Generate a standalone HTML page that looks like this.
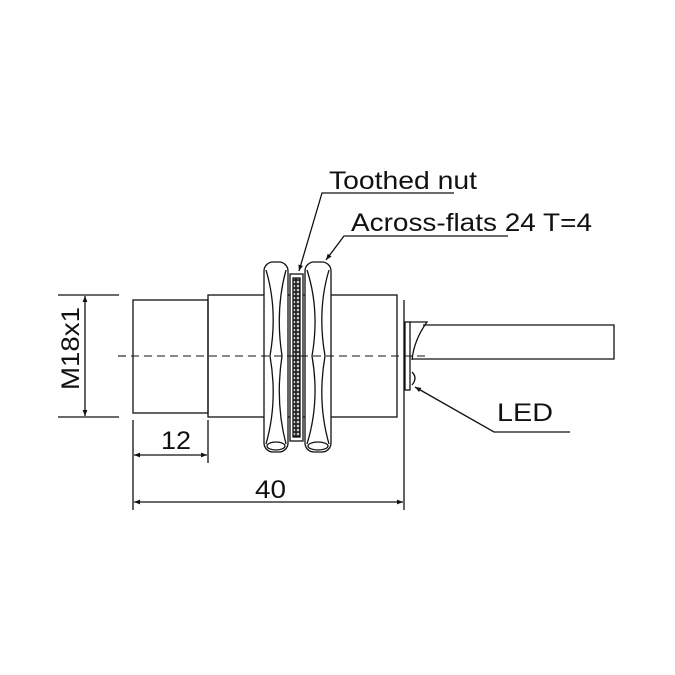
<!DOCTYPE html>
<html><head><style>body{margin:0;background:#fff}svg{display:block}</style></head>
<body>
<svg width="675" height="675" viewBox="0 0 675 675" xmlns="http://www.w3.org/2000/svg" font-family="Liberation Sans, Arial, sans-serif">
<defs>
<pattern id="dots" width="4" height="4" patternUnits="userSpaceOnUse">
<rect width="4" height="4" fill="#222"/><circle cx="2" cy="2" r="1.3" fill="#ccc"/>
</pattern>
<marker id="ar" viewBox="0 0 10 10" refX="10" refY="5" markerWidth="12" markerHeight="6" orient="auto-start-reverse" markerUnits="userSpaceOnUse"><path d="M0,1 L10,5 L0,9 z" fill="#111"/></marker>
</defs>
<g stroke="#111" stroke-width="1.3" fill="none">
<rect x="133" y="300" width="75" height="113"/>
<rect x="208" y="295" width="189" height="122"/>
<rect x="405" y="322" width="5" height="68"/>
<path d="M410,322 L427,322 Q414,340 412,360"/>
<path d="M423,325 L614,325 L614,359 L412,359"/>
<path d="M412,372 Q418,378 412,385"/>
<rect x="290" y="274" width="13" height="167" fill="#fff"/>
<rect x="293" y="278" width="7" height="159" fill="url(#dots)" stroke="#111"/>
<rect x="264" y="262" width="24" height="190" rx="9" fill="#fff"/>
<path d="M266,270 Q278,310 270,356 Q278,402 266,444"/>
<path d="M286,270 Q275,310 282,356 Q275,402 286,444"/>
<ellipse cx="276" cy="446" rx="9" ry="4"/>
<rect x="305" y="262" width="26" height="190" rx="9" fill="#fff"/>
<path d="M307,270 Q320,310 312,356 Q320,402 307,444"/>
<path d="M329,270 Q317,310 325,356 Q317,402 329,444"/>
<ellipse cx="318" cy="446" rx="10" ry="4"/>
<line x1="118" y1="356" x2="430" y2="356" stroke-dasharray="8,5" stroke-width="1.1"/>
<line x1="58" y1="295" x2="119" y2="295"/>
<line x1="58" y1="417" x2="119" y2="417"/>
<line x1="133" y1="420" x2="133" y2="510"/>
<line x1="208" y1="420" x2="208" y2="463"/>
<line x1="404" y1="300" x2="404" y2="510"/>
<line x1="85" y1="296" x2="85" y2="416" marker-start="url(#ar)" marker-end="url(#ar)"/>
<line x1="134" y1="455" x2="207" y2="455" marker-start="url(#ar)" marker-end="url(#ar)"/>
<line x1="134" y1="502" x2="403" y2="502" marker-start="url(#ar)" marker-end="url(#ar)"/>
<path d="M454,193 L322,193 L299,271" marker-end="url(#ar)"/>
<path d="M508,236 L344,236 L326,260" marker-end="url(#ar)"/>
<path d="M570,432 L494,432 L415,387" marker-end="url(#ar)"/>
</g>
<g fill="#111" font-size="25">
<text x="329" y="189" textLength="148" lengthAdjust="spacingAndGlyphs">Toothed nut</text>
<text x="351" y="231" textLength="241" lengthAdjust="spacingAndGlyphs">Across-flats 24 T=4</text>
<text x="497" y="421" textLength="56" lengthAdjust="spacingAndGlyphs">LED</text>
<text x="161" y="449" textLength="30" lengthAdjust="spacingAndGlyphs">12</text>
<text x="255" y="498" textLength="31" lengthAdjust="spacingAndGlyphs">40</text>
<text transform="translate(79,390) rotate(-90)" textLength="83" lengthAdjust="spacingAndGlyphs">M18x1</text>
</g>
</svg>
</body></html>
